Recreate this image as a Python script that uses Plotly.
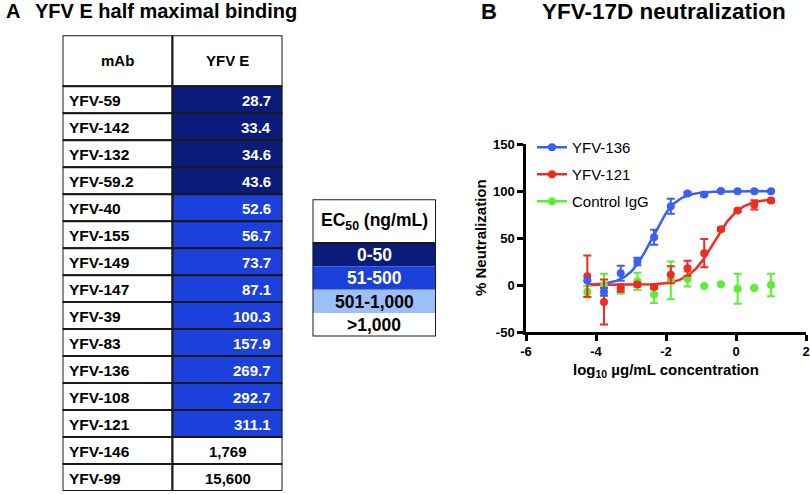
import numpy as np
import plotly.graph_objects as go

W, H = 810, 494
FONT = "Liberation Sans, Arial, sans-serif"

# ---------------- Panel A data ----------------
mabs = ["YFV-59", "YFV-142", "YFV-132", "YFV-59.2", "YFV-40", "YFV-155", "YFV-149",
        "YFV-147", "YFV-39", "YFV-83", "YFV-136", "YFV-108", "YFV-121", "YFV-146", "YFV-99"]
ec50_ng_ml = [28.7, 33.4, 34.6, 43.6, 52.6, 56.7, 73.7, 87.1, 100.3, 157.9,
              269.7, 292.7, 311.1, 1769, 15600]
table_headers = ["mAb", "YFV E"]

bin_title = "EC<sub>50</sub> (ng/mL)"
bin_labels = ["0-50", "51-500", "501-1,000", ">1,000"]
bin_upper = [50, 500, 1000, float("inf")]
bin_colors = ["#0b1b7c", "#1c40dc", "#9dbff7", "#ffffff"]
bin_text_colors = ["white", "white", "black", "black"]

# ---------------- Panel B data ----------------
log_conc = [-4.248, -3.771, -3.294, -2.817, -2.340, -1.863, -1.385, -0.908, -0.431, 0.046, 0.523, 1.0]

yfv136_mean = [5, -7, 12.5, 25, 51, 84, 97.5, 96.5, 100.3, 100, 100, 100]
yfv136_err = [0, 4, 8, 4, 8, 8, 1.5, 1.5, 0.5, 0.5, 0.5, 0.5]

yfv121_mean = [9.5, -18, -3, 0.5, -2, 11, 18, 34, 59.5, 79.5, 85.5, 90]
yfv121_err = [22, 24, 4, 2, 2, 9, 8, 15, 1.5, 1.5, 5, 1.5]

ctrl_mean = [-7, 0, -6, 4, -10, 5, 6.5, -1, 1, -4, -3, 0]
ctrl_err = [6, 12, 3, 9, 9, 20, 8, 0, 0, 16, 0, 12]

# four-parameter logistic fit parameters (bottom, top, logEC50, hill)
fit_136 = (0, 100, -2.4, 1.3)
fit_121 = (0, 92, -0.62, 1.2)

x_ticks = [-6, -4, -2, 0, 2]
x_tick_labels = ["-6", "-4", "-2", "0", "2"]
y_ticks = [-50, 0, 50, 100, 150]
y_tick_labels = ["-50", "0", "50", "100", "150"]

BLUE, RED, GREEN = "#3b5ff2", "#f22a22", "#5ded36"
LINE = "#1a1a1a"


def px_x(p):
    return p / W


def px_y(p):
    return 1 - p / H


def bin_index(v):
    for i, ub in enumerate(bin_upper):
        if v <= ub:
            return i
    return len(bin_upper) - 1


def fmt(v):
    return f"{v:,.1f}" if v < 1000 else f"{v:,.0f}"


fig = go.Figure()
shapes = []
annotations = []

# ---------------- Table A (axes x2/y2: columns 0..2, rows 0..n, header above 0) ----------------
n = len(mabs)
HDR = 51 / 27.0  # header height in row units
for c, h in enumerate(table_headers):
    shapes.append(dict(type="rect", xref="x2", yref="y2", x0=c, x1=c + 1, y0=-HDR, y1=0,
                       fillcolor="white", line=dict(color=LINE, width=2), layer="above"))
    annotations.append(dict(text=f"<b>{h}</b>", xref="x2", yref="y2", x=c + 0.5, y=-HDR / 2,
                            xanchor="center", yanchor="middle", showarrow=False,
                            font=dict(family=FONT, size=15, color="black")))
for i, (m, v) in enumerate(zip(mabs, ec50_ng_ml)):
    b = bin_index(v)
    shapes.append(dict(type="rect", xref="x2", yref="y2", x0=0, x1=1, y0=i, y1=i + 1,
                       fillcolor="white", line=dict(color=LINE, width=2), layer="above"))
    shapes.append(dict(type="rect", xref="x2", yref="y2", x0=1, x1=2, y0=i, y1=i + 1,
                       fillcolor=bin_colors[b], line=dict(color=LINE, width=2), layer="above"))
    annotations.append(dict(text=f"<b>{m}</b>", xref="x2", yref="y2", x=0.045, y=i + 0.53,
                            xanchor="left", yanchor="middle", showarrow=False,
                            font=dict(family=FONT, size=15.5, color="black")))
    colored = b < 2
    annotations.append(dict(text=f"<b>{fmt(v)}</b>", xref="x2", yref="y2",
                            x=1.915 if colored else 1.5, y=i + 0.53,
                            xanchor="right" if colored else "center", yanchor="middle",
                            showarrow=False,
                            font=dict(family=FONT, size=15, color=bin_text_colors[b])))

# ---------------- Legend table (axes x3/y3) ----------------
LH = 43.4 / 23.3
shapes.append(dict(type="rect", xref="x3", yref="y3", x0=0, x1=1, y0=-LH, y1=0,
                   fillcolor="white", line=dict(width=0), layer="above"))
annotations.append(dict(text=f"<b>{bin_title}</b>", xref="x3", yref="y3", x=0.5, y=-LH / 2,
                        xanchor="center", yanchor="middle", showarrow=False,
                        font=dict(family=FONT, size=17.5, color="black")))
for i, (lab, col, tc) in enumerate(zip(bin_labels, bin_colors, bin_text_colors)):
    shapes.append(dict(type="rect", xref="x3", yref="y3", x0=0, x1=1, y0=i, y1=i + 1,
                       fillcolor=col, line=dict(width=0), layer="above"))
    annotations.append(dict(text=f"<b>{lab}</b>", xref="x3", yref="y3", x=0.5, y=i + 0.52,
                            xanchor="center", yanchor="middle", showarrow=False,
                            font=dict(family=FONT, size=17.5, color=tc)))
shapes.append(dict(type="line", xref="x3", yref="y3", x0=0, x1=1, y0=0, y1=0,
                   line=dict(color=LINE, width=2), layer="above"))
shapes.append(dict(type="rect", xref="x3", yref="y3", x0=0, x1=1, y0=-LH, y1=len(bin_labels),
                   fillcolor="rgba(0,0,0,0)", line=dict(color=LINE, width=2), layer="above"))


# ---------------- Panel B ----------------
def logistic(x, p):
    b, t, ec, h = p
    return b + (t - b) / (1 + 10 ** ((ec - x) * h))


xc = np.linspace(min(log_conc), max(log_conc), 200)
fig.add_trace(go.Scatter(x=xc, y=logistic(xc, fit_136), mode="lines",
                         line=dict(color=BLUE, width=2.5), showlegend=False, hoverinfo="skip"))
fig.add_trace(go.Scatter(x=xc, y=logistic(xc, fit_121), mode="lines",
                         line=dict(color=RED, width=2.5), showlegend=False, hoverinfo="skip"))

for name, mean, err, col in [("Control IgG", ctrl_mean, ctrl_err, GREEN),
                             ("YFV-121", yfv121_mean, yfv121_err, RED),
                             ("YFV-136", yfv136_mean, yfv136_err, BLUE)]:
    fig.add_trace(go.Scatter(x=log_conc, y=mean, mode="markers", name=name,
                             marker=dict(color=col, size=8),
                             error_y=dict(type="data", array=err, color=col,
                                          thickness=2, width=4),
                             showlegend=False))

for gi, (name, col) in enumerate([("YFV-136", BLUE), ("YFV-121", RED), ("Control IgG", GREEN)]):
    fig.add_trace(go.Scatter(x=[None], y=[None], mode="lines+markers", name=name,
                             legendgroup=f"g{gi}",
                             line=dict(color=col, width=2.5),
                             marker=dict(color=col, size=8)))

# invisible anchor traces for the table axes
fig.add_trace(go.Scatter(x=[None], y=[None], xaxis="x2", yaxis="y2", showlegend=False))
fig.add_trace(go.Scatter(x=[None], y=[None], xaxis="x3", yaxis="y3", showlegend=False))

axis_common = dict(showline=True, linecolor="black", linewidth=2.5, ticks="outside",
                   ticklen=6, tickwidth=2.5, tickcolor="black", showgrid=False,
                   zeroline=False, automargin=False,
                   tickfont=dict(family=FONT, size=13, color="black", weight="bold"))
hidden = dict(visible=False, showgrid=False, zeroline=False, automargin=False, fixedrange=True)

fig.update_layout(
    template="none",
    width=W, height=H, margin=dict(l=0, r=0, t=0, b=0, autoexpand=False),
    paper_bgcolor="white", plot_bgcolor="white",
    xaxis=dict(domain=[px_x(526), px_x(806)], range=[-6, 2], tickmode="array",
               tickvals=x_ticks, ticktext=x_tick_labels, anchor="y", **axis_common),
    yaxis=dict(domain=[px_y(332), px_y(144.3)], range=[-50, 150], tickmode="array",
               tickvals=y_ticks, ticktext=y_tick_labels, anchor="x", **axis_common),
    xaxis2=dict(domain=[px_x(62.5), px_x(282.5)], range=[0, 2], anchor="y2", **hidden),
    yaxis2=dict(domain=[px_y(491), px_y(35.3)], range=[n, -HDR], anchor="x2", **hidden),
    xaxis3=dict(domain=[px_x(312.5), px_x(436)], range=[0, 1], anchor="y3", **hidden),
    yaxis3=dict(domain=[px_y(336.5), px_y(199.3)], range=[len(bin_labels), -LH], anchor="x3", **hidden),
    legend=dict(x=px_x(532), y=px_y(131), xanchor="left", yanchor="top",
                font=dict(family=FONT, size=15, color="black"),
                bgcolor="rgba(0,0,0,0)", traceorder="grouped", tracegroupgap=4.5),
    showlegend=True,
    shapes=shapes,
    annotations=annotations + [
        dict(text="<b>A</b>", x=px_x(4), y=px_y(11.5), xref="paper", yref="paper",
             xanchor="left", yanchor="middle", showarrow=False,
             font=dict(family=FONT, size=20, color="black")),
        dict(text="<b>YFV E half maximal binding</b>", x=px_x(33), y=px_y(11.5),
             xref="paper", yref="paper", xanchor="left", yanchor="middle", showarrow=False,
             font=dict(family=FONT, size=20, color="black")),
        dict(text="<b>B</b>", x=px_x(479), y=px_y(11), xref="paper", yref="paper",
             xanchor="left", yanchor="middle", showarrow=False,
             font=dict(family=FONT, size=22, color="black")),
        dict(text="<b>YFV-17D neutralization</b>", x=px_x(540), y=px_y(11),
             xref="paper", yref="paper", xanchor="left", yanchor="middle", showarrow=False,
             font=dict(family=FONT, size=22.5, color="black")),
        dict(text="<b>log<sub>10</sub> µg/mL concentration</b>", x=px_x(666), y=px_y(370),
             xref="paper", yref="paper", xanchor="center", yanchor="middle", showarrow=False,
             font=dict(family=FONT, size=15, color="black")),
        dict(text="<b>% Neutralization</b>", x=px_x(480), y=px_y(238), textangle=-90,
             xref="paper", yref="paper", xanchor="center", yanchor="middle", showarrow=False,
             font=dict(family=FONT, size=15, color="black")),
    ],
)

fig.write_html("out.html", config={"displayModeBar": False},
               post_script="document.body.style.margin='0';document.body.style.overflow='hidden';")
